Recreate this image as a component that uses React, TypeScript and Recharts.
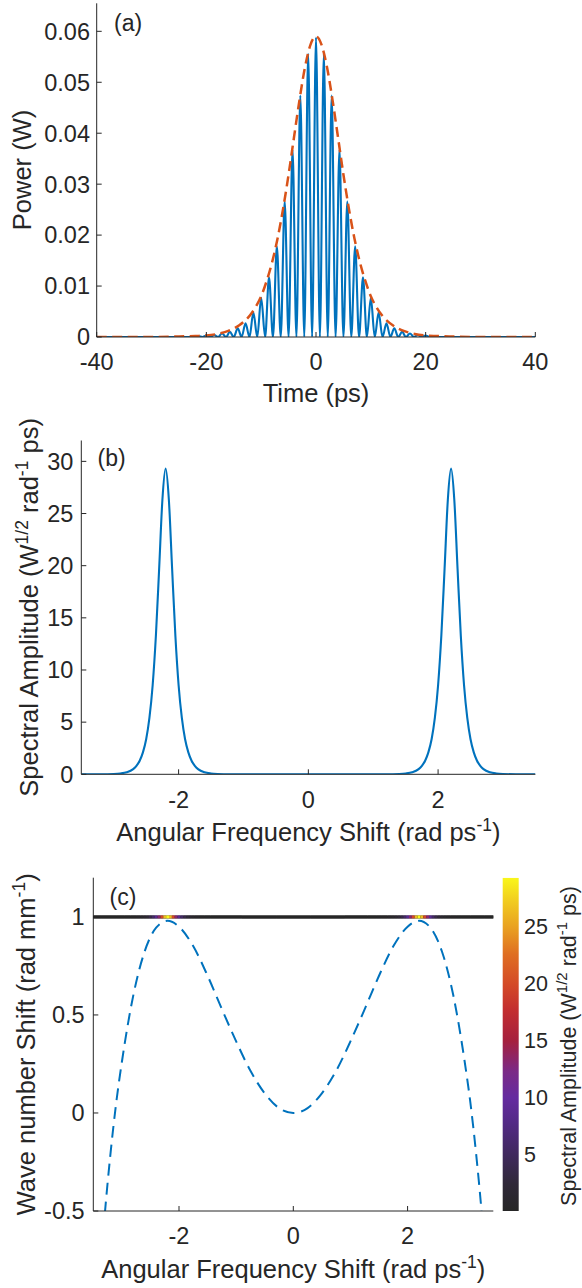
import React from 'react';
import { LineChart, Line, XAxis, YAxis, ReferenceLine, BarChart, Bar } from 'recharts';

const FONT = '"Liberation Sans", Arial, Helvetica, sans-serif';
const INK = '#262626';
const BLUE = '#0072BD';
const ORANGE = '#D95319';

// ---------- Panel (a): power vs time ----------
const pulseTime = [
  -40, -23, -22.13,
  -21.42, -20.71, -19.99, -19.28, -18.56, -17.85, -17.14, -16.42, -15.71, -14.99,
  -14.28, -13.57, -12.85, -12.14, -11.42, -10.71, -10.0, -9.28, -8.57, -7.85,
  -7.14, -6.43, -5.71, -5.0, -4.28, -3.57, -2.86, -2.14, -1.43, -0.71,
  0,
  0.71, 1.43, 2.14, 2.86, 3.57, 4.28, 5.0, 5.71, 6.43, 7.14,
  7.85, 8.57, 9.28, 10.0, 10.71, 11.42, 12.14, 12.85, 13.57, 14.28,
  14.99, 15.71, 16.42, 17.14, 17.85, 18.56, 19.28, 19.99, 20.71, 21.42,
  22.13, 23, 40,
];
const pulsePower = [
  0, 0, 0,
  0.0002, 0, 0.0003, 0, 0.0004, 0, 0.0007, 0, 0.0010, 0,
  0.0017, 0, 0.0027, 0, 0.0048, 0, 0.0077, 0, 0.0117, 0,
  0.0178, 0, 0.0266, 0, 0.0368, 0, 0.0474, 0, 0.0556, 0,
  0.0588,
  0, 0.0556, 0, 0.0474, 0, 0.0368, 0, 0.0266, 0, 0.0178,
  0, 0.0117, 0, 0.0077, 0, 0.0048, 0, 0.0027, 0, 0.0017,
  0, 0.0010, 0, 0.0007, 0, 0.0004, 0, 0.0003, 0, 0.0002,
  0, 0, 0,
];
const envTime = [
  -40, -30, -25, -22, -20, -18, -16, -14, -12, -11, -10, -9, -8, -7, -6, -5, -4, -3, -2, -1,
  0,
  1, 2, 3, 4, 5, 6, 7, 8, 9, 10, 11, 12, 14, 16, 18, 20, 22, 25, 30, 40,
];
const envPower = [
  0, 0, 0.0001, 0.0002, 0.0003, 0.0006, 0.0012, 0.0023, 0.0043, 0.0059, 0.0080, 0.0110, 0.0147, 0.0194, 0.0252, 0.0319, 0.0393, 0.0466, 0.0530, 0.0574,
  0.0590,
  0.0574, 0.0530, 0.0466, 0.0393, 0.0319, 0.0252, 0.0194, 0.0147, 0.0110, 0.0080, 0.0059, 0.0043, 0.0023, 0.0012, 0.0006, 0.0003, 0.0002, 0.0001, 0, 0,
];
const timeTicks = [-40, -20, 0, 20, 40];
const powerTicks = [0, 0.01, 0.02, 0.03, 0.04, 0.05, 0.06];
const powerMax = 0.0655;

// ---------- Panel (b): spectral amplitude ----------
const specOmega = [
  -3.5, -3.2, -3.0, -2.9, -2.8, -2.7, -2.65, -2.6, -2.55, -2.5, -2.45, -2.4, -2.35, -2.3, -2.25,
  -2.2, -2.15, -2.1, -2.05, -2.0, -1.95, -1.9, -1.85, -1.8, -1.75, -1.7, -1.6, -1.5, -1.4, -1.2,
  -0.6, 0, 0.6,
  1.2, 1.4, 1.5, 1.6, 1.7, 1.75, 1.8, 1.85, 1.9, 1.95, 2.0, 2.05, 2.1, 2.15,
  2.2, 2.25, 2.3, 2.35, 2.4, 2.45, 2.5, 2.55, 2.6, 2.65, 2.7, 2.8, 2.9, 3.0, 3.2, 3.5,
];
const specAmp = [
  0, 0.004, 0.03, 0.075, 0.19, 0.5, 0.81, 1.3, 2.1, 3.36, 5.4, 8.54, 13.3, 19.7, 26.3,
  29.3, 26.3, 19.7, 13.3, 8.54, 5.4, 3.36, 2.1, 1.3, 0.81, 0.5, 0.19, 0.075, 0.03, 0.004,
  0, 0, 0,
  0.004, 0.03, 0.075, 0.19, 0.5, 0.81, 1.3, 2.1, 3.36, 5.4, 8.54, 13.3, 19.7, 26.3,
  29.3, 26.3, 19.7, 13.3, 8.54, 5.4, 3.36, 2.1, 1.3, 0.81, 0.5, 0.19, 0.075, 0.03, 0.004, 0,
];
const omegaTicks = [-2, 0, 2];
const ampTicks = [0, 5, 10, 15, 20, 25, 30];
const ampMax = 32;

// ---------- Panel (c): wave number shift ----------
const dispOmega = [
  -3.4, -3.3, -3.2, -3.1, -3.0, -2.8, -2.6, -2.4, -2.2, -2.0, -1.75, -1.5, -1.25, -1.0, -0.75, -0.5, -0.25,
  0,
  0.25, 0.5, 0.75, 1.0, 1.25, 1.5, 1.75, 2.0, 2.2, 2.4, 2.6, 2.8, 3.0, 3.1, 3.2, 3.3, 3.4,
];
const dispK = [
  -0.9, -0.52, -0.21, 0.05, 0.26, 0.6, 0.825, 0.945, 0.98, 0.95, 0.85, 0.7, 0.53, 0.365, 0.215, 0.1, 0.025,
  0,
  0.025, 0.1, 0.215, 0.365, 0.53, 0.7, 0.85, 0.95, 0.98, 0.945, 0.825, 0.6, 0.26, 0.05, -0.21, -0.52, -0.9,
];
const kTicks = [-0.5, 0, 0.5, 1];
const heatLevel = 1;
const colorbarTicks = [5, 10, 15, 20, 25];

// ---------- colormap (style) ----------
const cmapStops: [number, string][] = [
  [0.0, '#262626'],
  [0.08, '#2f2838'],
  [0.17, '#40295e'],
  [0.27, '#542a88'],
  [0.34, '#652ba0'],
  [0.42, '#7b2a86'],
  [0.51, '#a5203e'],
  [0.6, '#c22d30'],
  [0.68, '#d44a27'],
  [0.77, '#df6e22'],
  [0.85, '#e9a021'],
  [0.93, '#f1cc1f'],
  [1.0, '#f9f71b'],
];
function hexToRgb(h: string) {
  const n = parseInt(h.slice(1), 16);
  return [(n >> 16) & 255, (n >> 8) & 255, n & 255];
}
function cmap(f: number) {
  const g = Math.max(0, Math.min(1, f));
  for (let i = 1; i < cmapStops.length; i++) {
    const [f1, c1] = cmapStops[i];
    if (g <= f1) {
      const [f0, c0] = cmapStops[i - 1];
      const u = (g - f0) / (f1 - f0);
      const A = hexToRgb(c0);
      const B = hexToRgb(c1);
      return `rgb(${A.map((v, k) => Math.round(v + (B[k] - v) * u)).join(',')})`;
    }
  }
  return cmapStops[cmapStops.length - 1][1];
}

const TICK = 23.5;
const tickStyle = { fill: INK, fontSize: TICK, fontFamily: FONT };
const axisLineStyle = { stroke: INK, strokeWidth: 1 };
const tickLineStyle = { stroke: INK, strokeWidth: 1 };
const blank = () => '';
const LABEL = 25.5;
const SUP = 17.5;
const LETTER = 23;

export default function App() {
  const pulseData = pulseTime.map((t, i) => ({ t, p: pulsePower[i] }));
  const envData = envTime.map((t, i) => ({ t, p: envPower[i] }));
  const specData = specOmega.map((w, i) => ({ w, a: specAmp[i] }));
  const dispData = dispOmega.map((w, i) => ({ w, k: dispK[i] }));
  const cmax = Math.max(...specAmp);
  const heatSegs = specOmega
    .map((w, i) => {
      const a = i === 0 ? w : (specOmega[i - 1] + w) / 2;
      const b = i === specOmega.length - 1 ? w : (w + specOmega[i + 1]) / 2;
      return { a, b, c: cmap(specAmp[i] / cmax) };
    })
    .filter((s) => s.b > s.a);

  return (
    <div style={{ position: 'absolute', left: 0, top: 0, width: 582, height: 1288, background: '#fff', fontFamily: FONT }}>
      {/* Panel (a) */}
      <div style={{ position: 'absolute', left: 0, top: 0 }}>
        <LineChart width={582} height={420} margin={{ top: 3.3, right: 46.7, bottom: 43, left: 36.7 }}>
          <XAxis xAxisId="b" dataKey="t" type="number" domain={[-40, 40]} ticks={timeTicks} allowDataOverflow interval={0}
            height={40} tickSize={-5} tickMargin={21} tick={tickStyle} axisLine={axisLineStyle} tickLine={tickLineStyle} />
          <XAxis xAxisId="t" orientation="top" dataKey="t" type="number" domain={[-40, 40]} ticks={timeTicks} allowDataOverflow interval={0}
            height={0} tickSize={-5} tickFormatter={blank} axisLine={axisLineStyle} tickLine={tickLineStyle} />
          <YAxis yAxisId="l" type="number" domain={[0, powerMax]} ticks={powerTicks} allowDataOverflow interval={0}
            width={60} tickSize={-5} tickMargin={11.7} tick={tickStyle} axisLine={axisLineStyle} tickLine={tickLineStyle}
            tickFormatter={(v: number) => (v === 0 ? '0' : v.toFixed(2))} />
          <YAxis yAxisId="r" orientation="right" type="number" domain={[0, powerMax]} ticks={powerTicks} allowDataOverflow interval={0}
            width={0} tickSize={-5} tickFormatter={blank} axisLine={axisLineStyle} tickLine={tickLineStyle} />
          <Line xAxisId="b" yAxisId="l" data={pulseData} dataKey="p" type="monotone" stroke={BLUE} strokeWidth={2.1}
            dot={false} isAnimationActive={false} />
          <Line xAxisId="b" yAxisId="l" data={envData} dataKey="p" type="monotone" stroke={ORANGE} strokeWidth={2.5}
            strokeDasharray="10 5.5" dot={false} isAnimationActive={false} />
          <Line xAxisId="t" yAxisId="r" data={envData} dataKey="p" stroke="none" dot={false} isAnimationActive={false} />
        </LineChart>
      </div>

      {/* Panel (b) */}
      <div style={{ position: 'absolute', left: 0, top: 420 }}>
        <LineChart width={582} height={440} margin={{ top: 20.5, right: 46.6, bottom: 45.7, left: 21.3 }}>
          <XAxis xAxisId="b" dataKey="w" type="number" domain={[-3.5, 3.5]} ticks={omegaTicks} allowDataOverflow interval={0}
            height={40} tickSize={-5} tickMargin={22} tick={tickStyle} axisLine={axisLineStyle} tickLine={tickLineStyle} />
          <XAxis xAxisId="t" orientation="top" dataKey="w" type="number" domain={[-3.5, 3.5]} ticks={omegaTicks} allowDataOverflow interval={0}
            height={0} tickSize={-5} tickFormatter={blank} axisLine={axisLineStyle} tickLine={tickLineStyle} />
          <YAxis yAxisId="l" type="number" domain={[0, ampMax]} ticks={ampTicks} allowDataOverflow interval={0}
            width={60} tickSize={-5} tickMargin={13} tick={tickStyle} axisLine={axisLineStyle} tickLine={tickLineStyle} />
          <YAxis yAxisId="r" orientation="right" type="number" domain={[0, ampMax]} ticks={ampTicks} allowDataOverflow interval={0}
            width={0} tickSize={-5} tickFormatter={blank} axisLine={axisLineStyle} tickLine={tickLineStyle} />
          <Line xAxisId="b" yAxisId="l" data={specData} dataKey="a" type="monotone" stroke={BLUE} strokeWidth={2.1}
            dot={false} isAnimationActive={false} />
          <Line xAxisId="t" yAxisId="r" data={specData} dataKey="a" stroke="none" dot={false} isAnimationActive={false} />
        </LineChart>
      </div>

      {/* Panel (c) */}
      <div style={{ position: 'absolute', left: 0, top: 860 }}>
        <LineChart width={582} height={428} margin={{ top: 17.7, right: 88.7, bottom: 37, left: 33.3 }}>
          <XAxis xAxisId="b" dataKey="w" type="number" domain={[-3.5, 3.5]} ticks={omegaTicks} allowDataOverflow interval={0}
            height={40} tickSize={-5} tickMargin={21} tick={tickStyle} axisLine={axisLineStyle} tickLine={tickLineStyle} />
          <XAxis xAxisId="t" orientation="top" dataKey="w" type="number" domain={[-3.5, 3.5]} ticks={omegaTicks} allowDataOverflow interval={0}
            height={0} tickSize={-5} tickFormatter={blank} axisLine={axisLineStyle} tickLine={tickLineStyle} />
          <YAxis yAxisId="l" type="number" domain={[-0.5, 1.2]} ticks={kTicks} allowDataOverflow interval={0}
            width={60} tickSize={-5} tickMargin={13.7} tick={tickStyle} axisLine={axisLineStyle} tickLine={tickLineStyle} />
          <YAxis yAxisId="r" orientation="right" type="number" domain={[-0.5, 1.2]} ticks={kTicks} allowDataOverflow interval={0}
            width={0} tickSize={-5} tickFormatter={blank} axisLine={axisLineStyle} tickLine={tickLineStyle} />
          <ReferenceLine xAxisId="b" yAxisId="l" y={heatLevel} stroke="#262626" strokeWidth={3} />
          {heatSegs.map((s, i) => (
            <ReferenceLine key={i} xAxisId="b" yAxisId="l"
              segment={[{ x: s.a, y: heatLevel }, { x: s.b, y: heatLevel }]}
              stroke={s.c} strokeWidth={3} />
          ))}
          <Line xAxisId="b" yAxisId="l" data={dispData} dataKey="k" type="monotone" stroke={BLUE} strokeWidth={2}
            strokeDasharray="12 7" dot={false} isAnimationActive={false} />
          <Line xAxisId="t" yAxisId="r" data={dispData} dataKey="k" stroke="none" dot={false} isAnimationActive={false} />
        </LineChart>
      </div>

      {/* Colorbar */}
      <div style={{ position: 'absolute', left: 0, top: 860 }}>
        <BarChart width={582} height={428} data={[{ name: 'cb', v: cmax }]} barCategoryGap={0}
          margin={{ top: 17.7, right: 23, bottom: 77, left: 502.7 }}>
          <defs>
            <linearGradient id="cmapV" x1="0" y1="1" x2="0" y2="0">
              {cmapStops.map(([f, c], i) => (
                <stop key={i} offset={f} stopColor={c} />
              ))}
            </linearGradient>
          </defs>
          <XAxis dataKey="name" hide />
          <YAxis orientation="right" type="number" domain={[0, cmax]} ticks={colorbarTicks} allowDataOverflow interval={0}
            width={40} axisLine={false} tickLine={false} tickSize={0} tickMargin={5} tick={{ ...tickStyle, fontSize: 21.5 }} />
          <Bar dataKey="v" fill="url(#cmapV)" isAnimationActive={false} />
        </BarChart>
      </div>

      {/* Text overlay: axis titles and panel letters */}
      <svg width={582} height={1288} style={{ position: 'absolute', left: 0, top: 0, pointerEvents: 'none' }}
        fontFamily={FONT} fill={INK}>
        {/* (a) */}
        <text x={114} y={31} fontSize={LETTER}>(a)</text>
        <text transform="translate(31,170) rotate(-90)" textAnchor="middle" fontSize={LABEL}>Power (W)</text>
        <text x={316} y={402} textAnchor="middle" fontSize={LABEL}>Time (ps)</text>

        {/* (b) */}
        <text x={97.5} y={466} fontSize={LETTER}>(b)</text>
        <text transform="translate(38,607.4) rotate(-90)" textAnchor="middle" fontSize={LABEL}>
          Spectral Amplitude (W<tspan dy={-10} fontSize={SUP}>1/2</tspan>
          <tspan dy={10}> rad</tspan><tspan dy={-10} fontSize={SUP}>-1</tspan>
          <tspan dy={10}> ps)</tspan>
        </text>
        <text x={308.4} y={841} textAnchor="middle" fontSize={LABEL}>
          Angular Frequency Shift (rad ps<tspan dy={-10} fontSize={SUP}>-1</tspan><tspan dy={10}>)</tspan>
        </text>

        {/* (c) */}
        <text x={109.5} y={904.5} fontSize={LETTER}>(c)</text>
        <text transform="translate(35,1044.3) rotate(-90)" textAnchor="middle" fontSize={LABEL}>
          Wave number Shift (rad mm<tspan dy={-10} fontSize={SUP}>-1</tspan><tspan dy={10}>)</tspan>
        </text>
        <text x={293.3} y={1278} textAnchor="middle" fontSize={LABEL}>
          Angular Frequency Shift (rad ps<tspan dy={-10} fontSize={SUP}>-1</tspan><tspan dy={10}>)</tspan>
        </text>
        <text transform="translate(575.5,1046) rotate(-90)" textAnchor="middle" fontSize={21.5}>
          Spectral Amplitude (W<tspan dy={-8.5} fontSize={15}>1/2</tspan>
          <tspan dy={8.5}> rad</tspan><tspan dy={-8.5} fontSize={15}>-1</tspan>
          <tspan dy={8.5}> ps)</tspan>
        </text>
      </svg>
    </div>
  );
}
